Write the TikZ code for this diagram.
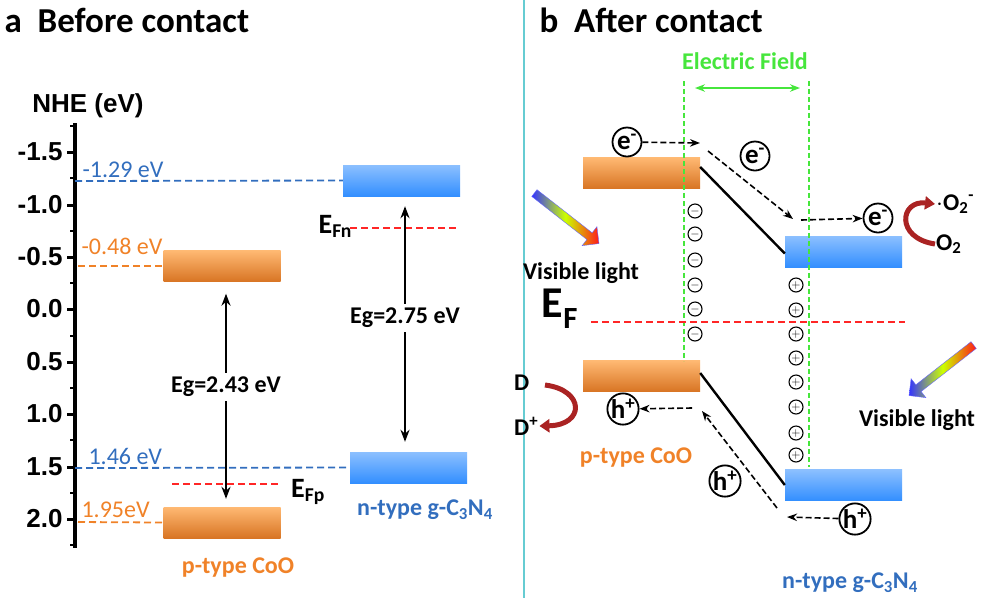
\documentclass[tikz,border=0pt]{standalone}
\usepackage{fontspec}
\setmainfont{Carlito}
\newfontfamily\axisfont{Liberation Sans}
\usetikzlibrary{positioning, shapes.arrows, arrows.meta, calc}
\definecolor{cooOrange}{RGB}{240,130,40}
\definecolor{gcnBlue}{RGB}{50,110,190}
\definecolor{fieldGreen}{RGB}{70,230,60}
\definecolor{redArrow}{RGB}{170,35,35}
\tikzset{
  coo/.style={draw=none, top color=orange!55, bottom color=cooOrange!90!black, minimum width=117pt, minimum height=31pt, inner sep=0pt},
  gcn/.style={draw=none, top color=cyan!45!blue!45, bottom color=blue!55!cyan!80, minimum width=117pt, minimum height=31pt, inner sep=0pt},
  lvl/.style={dash pattern=on 7pt off 4pt, line width=1.8pt},
  txt/.style={font=\fontsize{24}{26}\selectfont\bfseries, inner sep=1pt},
  carrier/.style={circle, draw, line width=1.8pt, inner sep=0pt, minimum size=29pt, font=\fontsize{27}{27}\selectfont\bfseries},
  charge/.style={circle, draw, line width=1.1pt, inner sep=0pt, minimum size=14pt, font=\fontsize{13}{13}\selectfont\bfseries},
  flow/.style={-{Stealth[length=10pt]}, dash pattern=on 6pt off 3pt, line width=1.6pt},
  gap/.style={{Stealth[length=12pt]}-{Stealth[length=12pt]}, line width=2.4pt},
  light/.style={single arrow, minimum height=82pt, minimum width=24pt, single arrow head extend=4pt, left color=blue!80, right color=red!90, middle color=yellow!80!green, draw=blue!60, inner sep=2pt},
}
\begin{document}
\begin{tikzpicture}[x=1pt, y=-1pt]
  \useasboundingbox (0,0) rectangle (981,598);
  % titles and separator
  \node[anchor=west, font=\fontsize{35}{37}\selectfont\bfseries] (titleA) at (1,20) {a\ \ Before contact};
  \node[anchor=west, font=\fontsize{35}{37}\selectfont\bfseries] (titleB) at (536,20) {b\ \ After contact};
  \draw[cyan!70!green!60, line width=2.5pt] (524,0) -- (524,598);

  % potential axis
  \draw[line width=3.5pt] (75,123) -- (75,548);
  \node[font=\axisfont\fontsize{26}{28}\selectfont\bfseries] (nhe) at (88,106) {NHE (eV)};
  \foreach \v/\lab in {152/-1.5, 205/-1.0, 257/-0.5, 309/0.0, 362/0.5, 414/1.0, 467/1.5, 519/2.0}{
    \draw[line width=3pt] (75,\v) -- (67,\v);
    \node[anchor=east, font=\axisfont\fontsize{26}{28}\selectfont\bfseries] at (66,\v) {\lab};
  }
  \foreach \v in {126,178,231,283,336,388,440,493,545}
    \draw[line width=2.5pt] (75,\v) -- (70,\v);

  % bands before contact
  \node[gcn] (cbN) at (401.5,180.5) {};
  \node[gcn] (vbN) at (408.5,467.5) {};
  \node[coo] (cbP) at (222,266) {};
  \node[coo] (vbP) at (222,522.5) {};
  \draw[lvl, gcnBlue] (75,181) -- (cbN.west);
  \draw[lvl, gcnBlue] (75,468) -- (vbN.west);
  \draw[lvl, cooOrange] (78,266) -- (cbP.west);
  \draw[lvl, cooOrange] (78,522) -- (vbP.west);
  \node[anchor=west, gcnBlue, font=\fontsize{24}{26}\selectfont] (lCbN) at (79,170) {-1.29 eV};
  \node[anchor=west, gcnBlue, font=\fontsize{24}{26}\selectfont] (lVbN) at (85,456) {1.46 eV};
  \node[anchor=west, cooOrange, font=\fontsize{24}{26}\selectfont] (lCbP) at (78,246) {-0.48 eV};
  \node[anchor=west, cooOrange, font=\fontsize{24}{26}\selectfont] (lVbP) at (78,510) {1.95eV};
  \coordinate (efnL) at (350,228);
  \coordinate (efnR) at (458,228);
  \draw[lvl, red!85] (efnL) -- (efnR);
  \node[anchor=east, font=\fontsize{28}{28}\selectfont\bfseries, inner sep=1pt] (efn) at (353,226) {E\textsubscript{Fn}};
  \coordinate (efpL) at (172,484);
  \coordinate (efpR) at (280,484);
  \draw[lvl, red!85] (efpL) -- (efpR);
  \node[anchor=west, font=\fontsize{28}{28}\selectfont\bfseries, inner sep=1pt] (efp) at (290,492) {E\textsubscript{Fp}};
  \node[txt] (egP) at (226,387) {Eg=2.43 eV};
  \node[txt] (egN) at (405,318) {Eg=2.75 eV};
  \draw[gap] ([yshift=-12pt]cbP.south -| egP) -- ([yshift=8pt]vbP.north -| egP);
  \draw[gap] ([yshift=-10pt]cbN.south -| egN) -- ([yshift=10pt]vbN.north -| egN);
  \fill[white] ([yshift=-3pt]egP.south west) rectangle ([yshift=3pt]egP.north east);
  \fill[white] ([yshift=-3pt]egN.south west) rectangle ([yshift=3pt]egN.north east);
  \node[txt] at (egP) {Eg=2.43 eV};
  \node[txt] at (egN) {Eg=2.75 eV};
  \node[txt, cooOrange] (typeP) at (238,568) {p-type CoO};
  \node[txt, gcnBlue] (typeN) at (425,510) {n-type g-C\textsubscript{3}N\textsubscript{4}};

  % bands after contact
  \node[coo] (cbP2) at (641.5,173) {};
  \node[gcn] (cbN2) at (843.5,251.5) {};
  \node[coo] (vbP2) at (641.5,376) {};
  \node[gcn] (vbN2) at (843.5,485) {};
  \draw[dash pattern=on 5pt off 3pt, fieldGreen, line width=1.6pt] (684,81) -- (684,361);
  \draw[dash pattern=on 5pt off 3pt, fieldGreen, line width=1.6pt] (809,81) -- (809,467);
  \draw[line width=2.4pt] ([yshift=6pt]cbP2.east) -- ([yshift=-2pt]cbN2.west);
  \draw[line width=2.4pt] ([yshift=3pt]vbP2.east) -- ([yshift=0pt]vbN2.west);
  \node[txt, fieldGreen] (field) at (745,61) {Electric Field};
  \draw[{Stealth[length=10pt]}-{Stealth[length=10pt]}, fieldGreen, line width=2pt] (695,88) -- (800,88);
  \draw[lvl, red!85] (591,322) -- (905,322);
  \node[font=\fontsize{44}{44}\selectfont\bfseries] (ef) at (560,309) {E\textsubscript{F}};
  \foreach \v in {211,234,260,285,309,334}
    \node[charge] at (695,\v) {$-$};
  \foreach \v in {285,310,334,358,382,407,433,455}
    \node[charge] at (796,\v) {$+$};

  % electrons
  \node[carrier] (e1) at (627,142) {e\textsuperscript{-}};
  \node[carrier] (e2) at (755,156) {e\textsuperscript{-}};
  \node[carrier] (e3) at (878,218) {e\textsuperscript{-}};
  \coordinate (e1end) at (700,143);
  \coordinate (e2a) at (708,151);
  \coordinate (e2b) at (793,219);
  \coordinate (e3a) at (801,220);
  \draw[flow] (e1) -- (e1end);
  \draw[flow] (e2a) -- (e2b);
  \draw[flow] (e3a) -- (e3);
  \node[txt, anchor=west] (o2m) at (935,204) {$\cdot$O\textsubscript{2}\textsuperscript{-}};
  \node[txt, anchor=west] (o2) at (935,244) {O\textsubscript{2}};
  \draw[-{Triangle[length=10pt,width=13pt]}, redArrow, line width=5pt] (o2.west) .. controls (895,238) and (900,200) .. (o2m.west);

  % holes
  \node[carrier] (h1) at (623,409) {h\textsuperscript{+}};
  \node[carrier] (h2) at (725,481) {h\textsuperscript{+}};
  \node[carrier] (h3) at (855,519) {h\textsuperscript{+}};
  \coordinate (h1a) at (692,408);
  \coordinate (h2a) at (777,508);
  \coordinate (h2b) at (702,411);
  \coordinate (h3b) at (787,517);
  \draw[flow] (h1a) -- (h1);
  \draw[flow] (h2a) -- (h2b);
  \draw[flow] (h3) -- (h3b);
  \node[txt, anchor=west] (dDon) at (513,383) {D};
  \node[txt, anchor=west] (dPlus) at (513,426) {D\textsuperscript{+}};
  \draw[-{Triangle[length=10pt,width=13pt]}, redArrow, line width=5pt] (545,385) .. controls (585,390) and (585,425) .. (dPlus.east);
  \node[txt, cooOrange] (typeP2) at (636,458) {p-type CoO};
  \node[txt, gcnBlue] (typeN2) at (850,583) {n-type g-C\textsubscript{3}N\textsubscript{4}};

  % light
  \node[light, rotate=-38] (lightL) at (565,217) {};
  \node[txt] (visL) at (581,273) {Visible light};
  \node[light, rotate=218] (lightR) at (943,369) {};
  \node[txt] (visR) at (917,420) {Visible light};
\end{tikzpicture}
\end{document}
